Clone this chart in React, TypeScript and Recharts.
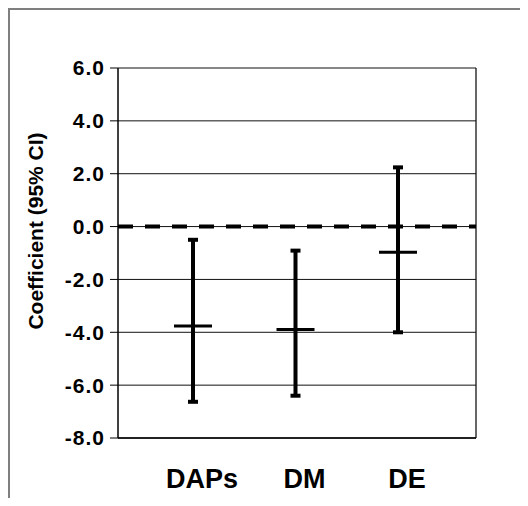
import {
  ComposedChart,
  Scatter,
  ErrorBar,
  XAxis,
  YAxis,
  CartesianGrid,
  ReferenceLine,
  Label,
} from 'recharts';

const categories = ['DAPs', 'DM', 'DE'];
const coefficient = [-3.76, -3.89, -0.97];
const lowerCI = [-6.63, -6.4, -4.0];
const upperCI = [-0.5, -0.91, 2.24];
const yTicks = [-8, -6, -4, -2, 0, 2, 4, 6];

const data = categories.map((name, i) => ({
  name,
  coef: coefficient[i],
  ci: [coefficient[i] - lowerCI[i], upperCI[i] - coefficient[i]],
}));

const font = 'Arial, "Liberation Sans", sans-serif';

// horizontal tick for the point estimate
const MeanMark = (props: any) => {
  const { cx, cy } = props;
  return <line x1={cx - 19} x2={cx + 19} y1={cy} y2={cy} stroke="#000" strokeWidth={3} />;
};

const YTitle = (props: any) => {
  const { x, y, height } = props.viewBox;
  const cx = x + 35;
  const cy = y + height / 2 - 22;
  return (
    <text
      x={cx}
      y={cy}
      transform={`rotate(-90, ${cx}, ${cy})`}
      textAnchor="middle"
      dominantBaseline="central"
      fill="#000"
      fontSize={21}
      fontWeight="bold"
      fontFamily={font}
    >
      Coefficient (95% CI)
    </text>
  );
};

export default function App() {
  return (
    <div style={{ position: 'relative', width: 528, height: 506, margin: -8, overflow: 'hidden', background: '#fff' }}>
      <div
        style={{
          position: 'absolute',
          left: 8,
          top: 8,
          width: 700,
          height: 700,
          border: '2px solid #7f7f7f',
        }}
      />
      {/* right edge of plot frame */}
      <div
        style={{
          position: 'absolute',
          left: 475,
          top: 68,
          width: 0,
          height: 370,
          borderLeft: '2px solid #666',
        }}
      />
      <div style={{ position: 'absolute', left: 0, top: 0 }}>
        <ComposedChart
          width={528}
          height={506}
          data={data}
          margin={{ top: 68, right: 52, bottom: 18, left: 0 }}
          style={{ fontFamily: font }}
        >
          <CartesianGrid vertical={false} stroke="#111" strokeWidth={1} />
          <XAxis
            dataKey="name"
            type="category"
            height={50}
            padding={{ left: 75, right: 78 }}
            tickLine={false}
            tickSize={0}
            tickMargin={31}
            axisLine={{ stroke: '#000', strokeWidth: 1.5 }}
            tick={{ fill: '#000', fontSize: 27, fontWeight: 'bold', fontFamily: font, dx: 9 }}
          />
          <YAxis
            type="number"
            domain={[-8, 6]}
            ticks={yTicks}
            width={118}
            tickSize={8}
            tickMargin={5}
            tickFormatter={(v: number) => v.toFixed(1)}
            axisLine={{ stroke: '#000', strokeWidth: 1.5 }}
            tickLine={{ stroke: '#000' }}
            tick={{ fill: '#000', fontSize: 21, fontWeight: 'bold', fontFamily: font, letterSpacing: 1 }}
          >
            <Label content={YTitle} />
          </YAxis>
          <ReferenceLine y={0} stroke="#000" strokeWidth={4} strokeDasharray="15 12" />
          <Scatter dataKey="coef" shape={MeanMark} isAnimationActive={false}>
            <ErrorBar dataKey="ci" direction="y" width={5} stroke="#000" strokeWidth={4} isAnimationActive={false} />
          </Scatter>
        </ComposedChart>
      </div>
    </div>
  );
}
